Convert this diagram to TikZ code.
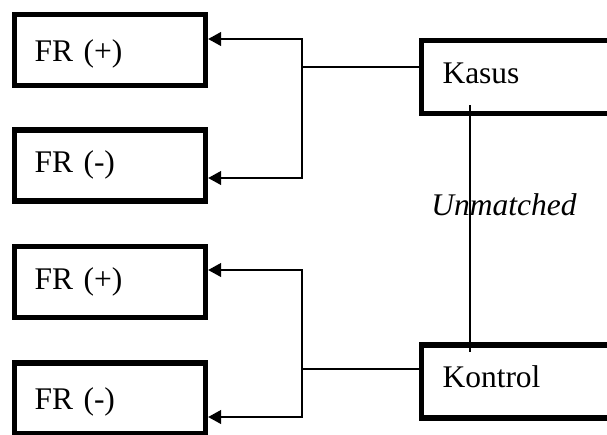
\documentclass[tikz,border=0pt]{standalone}
\usepackage{fontspec}
\setmainfont{Liberation Serif}
\usetikzlibrary{arrows.meta,calc}
\begin{document}
\begin{tikzpicture}[x=1pt,y=-1pt,
  box/.style={draw,line width=5.4pt,rectangle,minimum height=71pt,
    text width=151pt,align=left,inner xsep=20pt,inner ysep=0pt,
    text height=22pt,text depth=8pt,font=\fontsize{31.5}{36}\selectfont},
  bigbox/.style={box,minimum height=73pt,text width=187pt,inner xsep=21pt},
  conn/.style={line width=1.3pt},
  arr/.style={conn,-{Triangle[length=13pt,width=14pt]}}]
\useasboundingbox (0,0) rectangle (607,434);
\clip (0,0) rectangle (607,434);
\node[box,text height=30pt] (fr1) at (110,50) {FR (+)};
\node[box] (fr2) at (110,165.5) {FR (-)};
\node[box] (fr3) at (110,282) {FR (+)};
\node[box,text height=30pt] (fr4) at (110,398.5) {FR (-)};
\node[bigbox,text height=20pt] (kasus) at (536,77) {Kasus};
\node[bigbox,text height=19pt] (kontrol) at (536,381.5) {Kontrol};
\coordinate (j1) at (302,67);
\coordinate (j2) at (302,369);
\draw[conn] ([yshift=10pt]kasus.west) -- (j1);
\draw[arr] (j1) |- ([yshift=11pt]fr1.east);
\draw[arr] (j1) |- ([yshift=-12.5pt]fr2.east);
\draw[conn] ([yshift=12.5pt]kontrol.west) -- (j2);
\draw[arr] (j2) |- ([yshift=12pt]fr3.east);
\draw[arr] (j2) |- ([yshift=-18.5pt]fr4.east);
\node[font=\fontsize{31.5}{36}\selectfont\itshape,anchor=base,inner sep=0pt] (um) at (504,215) {Unmatched};
\coordinate (u1) at (470,105);
\coordinate (u2) at (470,352);
\draw[line width=2pt] (u1) -- (u2);
\end{tikzpicture}
\end{document}
